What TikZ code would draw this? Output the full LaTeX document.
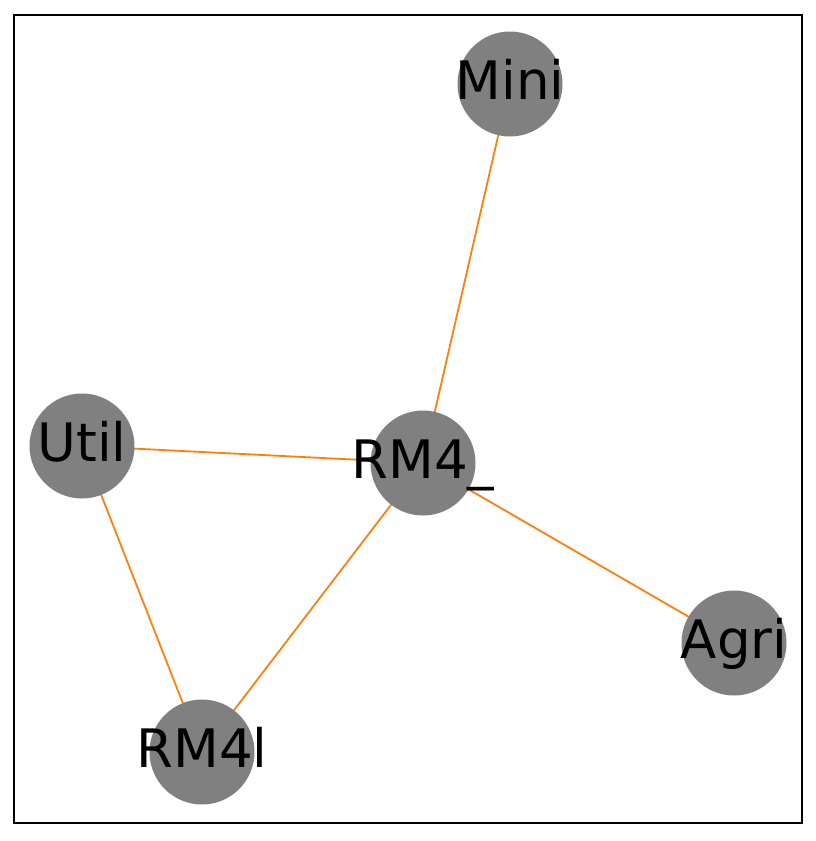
\documentclass[tikz,border=0pt]{standalone}
\usepackage{fontspec}
\setmainfont{DejaVu Sans}
\begin{document}
\begin{tikzpicture}[x=1pt,y=-1pt,
  vertex/.style={circle,fill=nodegray,draw=none,minimum size=105pt,inner sep=0pt},
  link/.style={draw=edgeorange,line width=1.8pt},
  tag/.style={anchor=base,inner sep=0pt,font=\fontsize{53}{60}\selectfont}]
\definecolor{nodegray}{HTML}{808080}
\definecolor{edgeorange}{HTML}{FF7F0E}
\useasboundingbox (0,0) rectangle (816,841);
\draw[line width=2pt] (14,15) rectangle (802,823);
% graph vertices
\coordinate (Mini) at (510,84);
\coordinate (Util) at (82,446);
\coordinate (RM4u) at (423,463);
\coordinate (Agri) at (734,643);
\coordinate (RM4l) at (202,752);
% edges
\draw[link] (Mini) -- (RM4u);
\draw[link] (Util) -- (RM4u);
\draw[link] (Util) -- (RM4l);
\draw[link] (RM4u) -- (RM4l);
\draw[link] (RM4u) -- (Agri);
% disks
\foreach \v in {Mini,Util,RM4u,Agri,RM4l}
  \node[vertex] (\v-disk) at (\v) {};
% labels, baseline a little below each disk centre
\node[tag] (Mini-label) at ([yshift=-15pt]Mini) {Mini};
\node[tag] (Util-label) at ([yshift=-15pt]Util) {Util};
\node[tag] (RM4u-label) at ([yshift=-15pt]RM4u) {RM4\_};
\node[tag] (Agri-label) at ([yshift=-15pt]Agri) {Agri};
\node[tag] (RM4l-label) at ([yshift=-15pt]RM4l) {RM4l};
\end{tikzpicture}
\end{document}
